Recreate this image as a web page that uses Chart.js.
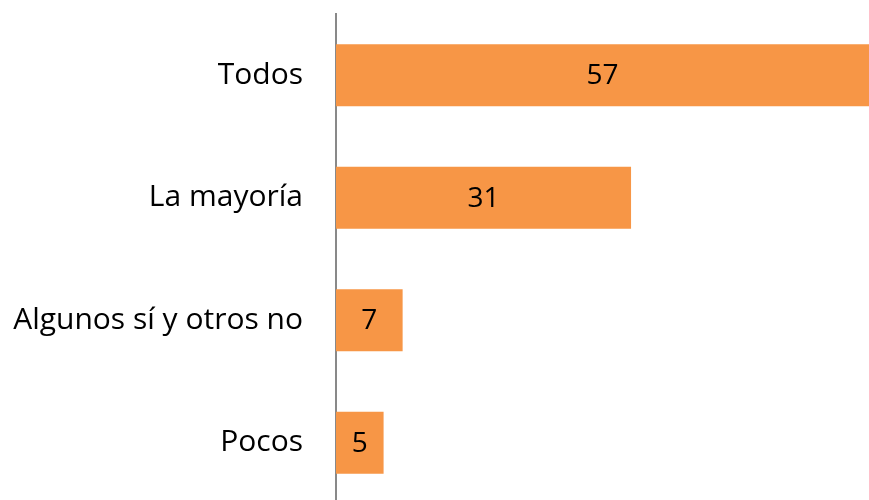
<!DOCTYPE html>
<html>
<head>
<meta charset="utf-8">
<script src="https://cdn.jsdelivr.net/npm/chart.js@4"></script>
<style>
  html, body { margin: 0; padding: 0; background: #fff; overflow: hidden; }
  #wrap { width: 869px; height: 500px; overflow: hidden; }
  #grafico { display: block; }
</style>
</head>
<body>
<div id="wrap"><canvas id="grafico" width="869" height="504"></canvas></div>
<script>
// Datos del gráfico
const categorias = ['Todos', 'La mayoría', 'Algunos sí y otros no', 'Pocos'];
const valores = [57, 31, 7, 5];

const fuente = "'Open Sans', 'Noto Sans', sans-serif";

// Plugin sencillo para escribir el valor en el centro de cada barra
const etiquetasValores = {
    id: 'etiquetasValores',
    afterDatasetsDraw(chart) {
        const ctx = chart.ctx;
        const meta = chart.getDatasetMeta(0);
        ctx.save();
        ctx.font = '28px ' + fuente;
        ctx.fillStyle = '#000';
        ctx.textAlign = 'center';
        ctx.textBaseline = 'middle';
        meta.data.forEach((barra, i) => {
            const fin = Math.min(barra.x, chart.width);
            const x = (barra.base + fin) / 2;
            ctx.fillText(String(valores[i]), x, barra.y + 1);
        });
        ctx.restore();
    }
};

const ctx = document.getElementById('grafico').getContext('2d');
const grafico = new Chart(ctx, {
    type: 'bar',
    data: {
        labels: categorias,
        datasets: [{
            data: valores,
            backgroundColor: '#F79646',
            borderWidth: 0,
            categoryPercentage: 1,
            barPercentage: 0.505,
        }]
    },
    options: {
        indexAxis: 'y',
        responsive: false,
        animation: false,
        layout: { padding: { top: 14, right: 0, bottom: 0, left: 0 } },
        plugins: {
            legend: { display: false },
            tooltip: { enabled: false }
        },
        scales: {
            x: {
                min: 0,
                max: 56,
                display: false,
                grid: { display: false }
            },
            y: {
                afterFit(scale) {
                    // ancho fijo del eje y sin relleno vertical extra
                    scale.width = 336;
                    scale.paddingTop = 0;
                    scale.paddingBottom = 0;
                },
                grid: { display: false, drawTicks: false },
                border: { display: true, color: '#898989', width: 2 },
                ticks: {
                    color: '#000',
                    padding: 33,
                    font: { family: fuente, size: 30 }
                }
            }
        }
    },
    plugins: [etiquetasValores]
});
</script>
</body>
</html>
